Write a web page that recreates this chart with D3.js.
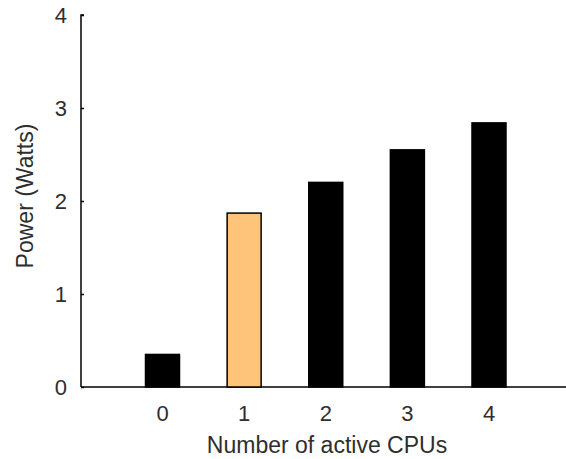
<!DOCTYPE html>
<html>
<head>
<meta charset="utf-8">
<script src="https://cdn.jsdelivr.net/npm/d3@7"></script>
<style>
  body { margin: 0; background: #fff; }
  text { font-family: "Liberation Sans", Arial, sans-serif; fill: #2e2e2e; }
</style>
</head>
<body>
<svg width="566" height="459"></svg>
<script>
// values
const cpus = ["0", "1", "2", "3", "4"];
const watts = [0.35, 1.87, 2.2, 2.55, 2.84];
const highlight = ["1"];
const yTicks = [0, 1, 2, 3, 4];

let svg = d3.select("svg");

// x: bar centres, y: power
let x = d3.scalePoint().domain(cpus).range([162.5, 489]);
let y = d3.scaleLinear().domain([0, 4]).range([387, 15]);
const barW = 34;

// x axis line runs to the edge
svg.append("line")
  .attr("x1", 81).attr("x2", 566)
  .attr("y1", y(0)).attr("y2", y(0))
  .attr("stroke", "#000").attr("stroke-width", 1.5);

let yAxis = svg.append("g")
  .attr("transform", "translate(81,0)")
  .call(d3.axisRight(y).tickValues(yTicks).tickSize(3).tickFormat(""));
yAxis.select(".domain").attr("stroke-width", 1.5).attr("d", "M3," + y(4) + "H0V" + y(0));
yAxis.selectAll(".tick line").attr("stroke-width", 1.5);

// y tick labels
svg.selectAll(".ylab")
  .data(yTicks)
  .enter().append("text")
    .attr("class", "ylab")
    .attr("x", 67)
    .attr("y", d => y(d))
    .attr("dy", "0.36em")
    .attr("text-anchor", "end")
    .attr("font-size", 22)
    .text(d => d);

// bars
svg.selectAll(".bar")
  .data(cpus)
  .enter().append("rect")
    .attr("class", "bar")
    .attr("x", d => x(d) - barW / 2)
    .attr("y", (d, i) => y(watts[i]))
    .attr("width", barW)
    .attr("height", (d, i) => y(0) - y(watts[i]))
    .attr("fill", d => highlight.includes(d) ? "#fdc47a" : "#000")
    .attr("stroke", "#000")
    .attr("stroke-width", 1.5);

// x tick labels
svg.selectAll(".xlab")
  .data(cpus)
  .enter().append("text")
    .attr("class", "xlab")
    .attr("x", d => x(d))
    .attr("y", 413)
    .attr("dy", "0.36em")
    .attr("text-anchor", "middle")
    .attr("font-size", 22)
    .text(d => d);

// axis titles
svg.append("text")
  .attr("x", 327).attr("y", 445)
  .attr("dy", "0.36em")
  .attr("text-anchor", "middle")
  .attr("font-size", 23)
  .text("Number of active CPUs");

svg.append("text")
  .attr("transform", "translate(25,196) rotate(-90)")
  .attr("dy", "0.36em")
  .attr("text-anchor", "middle")
  .attr("font-size", 23)
  .text("Power (Watts)");
</script>
</body>
</html>
